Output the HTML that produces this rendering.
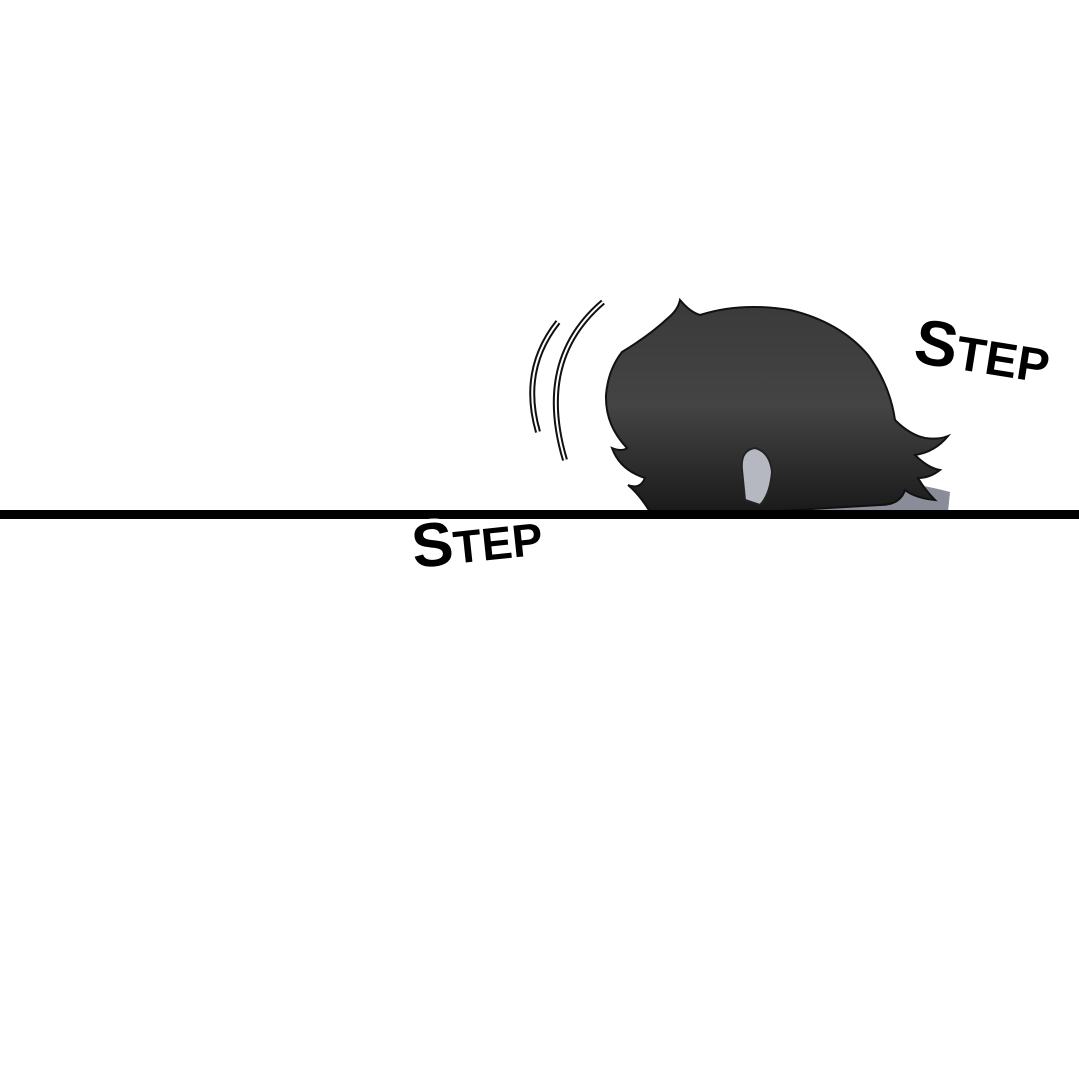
<!DOCTYPE html>
<html><head><style>
html,body{margin:0;padding:0;background:#fff;}
svg{display:block}
</style></head><body>
<svg width="1079" height="1080" viewBox="0 0 1079 1080" xmlns="http://www.w3.org/2000/svg">
<defs>
<linearGradient id="hair" x1="0" y1="0" x2="0" y2="1">
<stop offset="0" stop-color="#3a3a3a"/>
<stop offset="0.5" stop-color="#444"/>
<stop offset="1" stop-color="#1a1a1a"/>
</linearGradient>
</defs>
<rect width="1079" height="1080" fill="#fff"/>
<path d="M690 512 L700 485 Q760 470 830 480 Q900 478 950 492 L948 512 Z" fill="#8a8d99"/>
<path d="M622 352 Q650 335 668 318 Q678 310 680 300 Q690 312 700 315 Q740 302 790 310 Q840 322 868 355 Q890 385 895 420 Q910 435 925 438 Q938 440 948 436 Q935 452 915 455 Q928 468 940 470 Q930 478 918 478 Q925 490 935 500 Q915 498 905 490 Q900 505 880 505 L760 512 L650 512 Q640 495 628 485 Q640 490 645 478 Q620 470 612 448 Q622 452 627 448 Q605 425 606 395 Q608 370 622 352 Z" fill="url(#hair)" stroke="#111" stroke-width="2"/>
<path d="M742 470 Q740 450 755 448 Q770 452 772 472 Q770 495 760 505 L745 500 Z" fill="#b5b8c0" stroke="#222" stroke-width="2"/>
<path d="M558 322 Q520 370 538 432" fill="none" stroke="#111" stroke-width="6"/>
<path d="M558 322 Q520 370 538 432" fill="none" stroke="#fff" stroke-width="2"/>
<path d="M603 302 Q535 360 565 460" fill="none" stroke="#111" stroke-width="6"/>
<path d="M603 302 Q535 360 565 460" fill="none" stroke="#fff" stroke-width="2"/>
<rect x="0" y="510" width="1079" height="9" fill="#000"/>
<g transform="translate(414,568) rotate(-6)">
<text x="0" y="0" font-family="Liberation Sans, sans-serif" font-weight="bold" font-size="62" fill="#000" stroke="#fff" stroke-width="8" paint-order="stroke">S<tspan font-size="46">TEP</tspan></text>
</g>
<g transform="translate(912,362) rotate(9)">
<text x="0" y="0" font-family="Liberation Sans, sans-serif" font-weight="bold" font-size="64" fill="#000">S<tspan font-size="48">TEP</tspan></text>
</g>
</svg>
</body></html>
